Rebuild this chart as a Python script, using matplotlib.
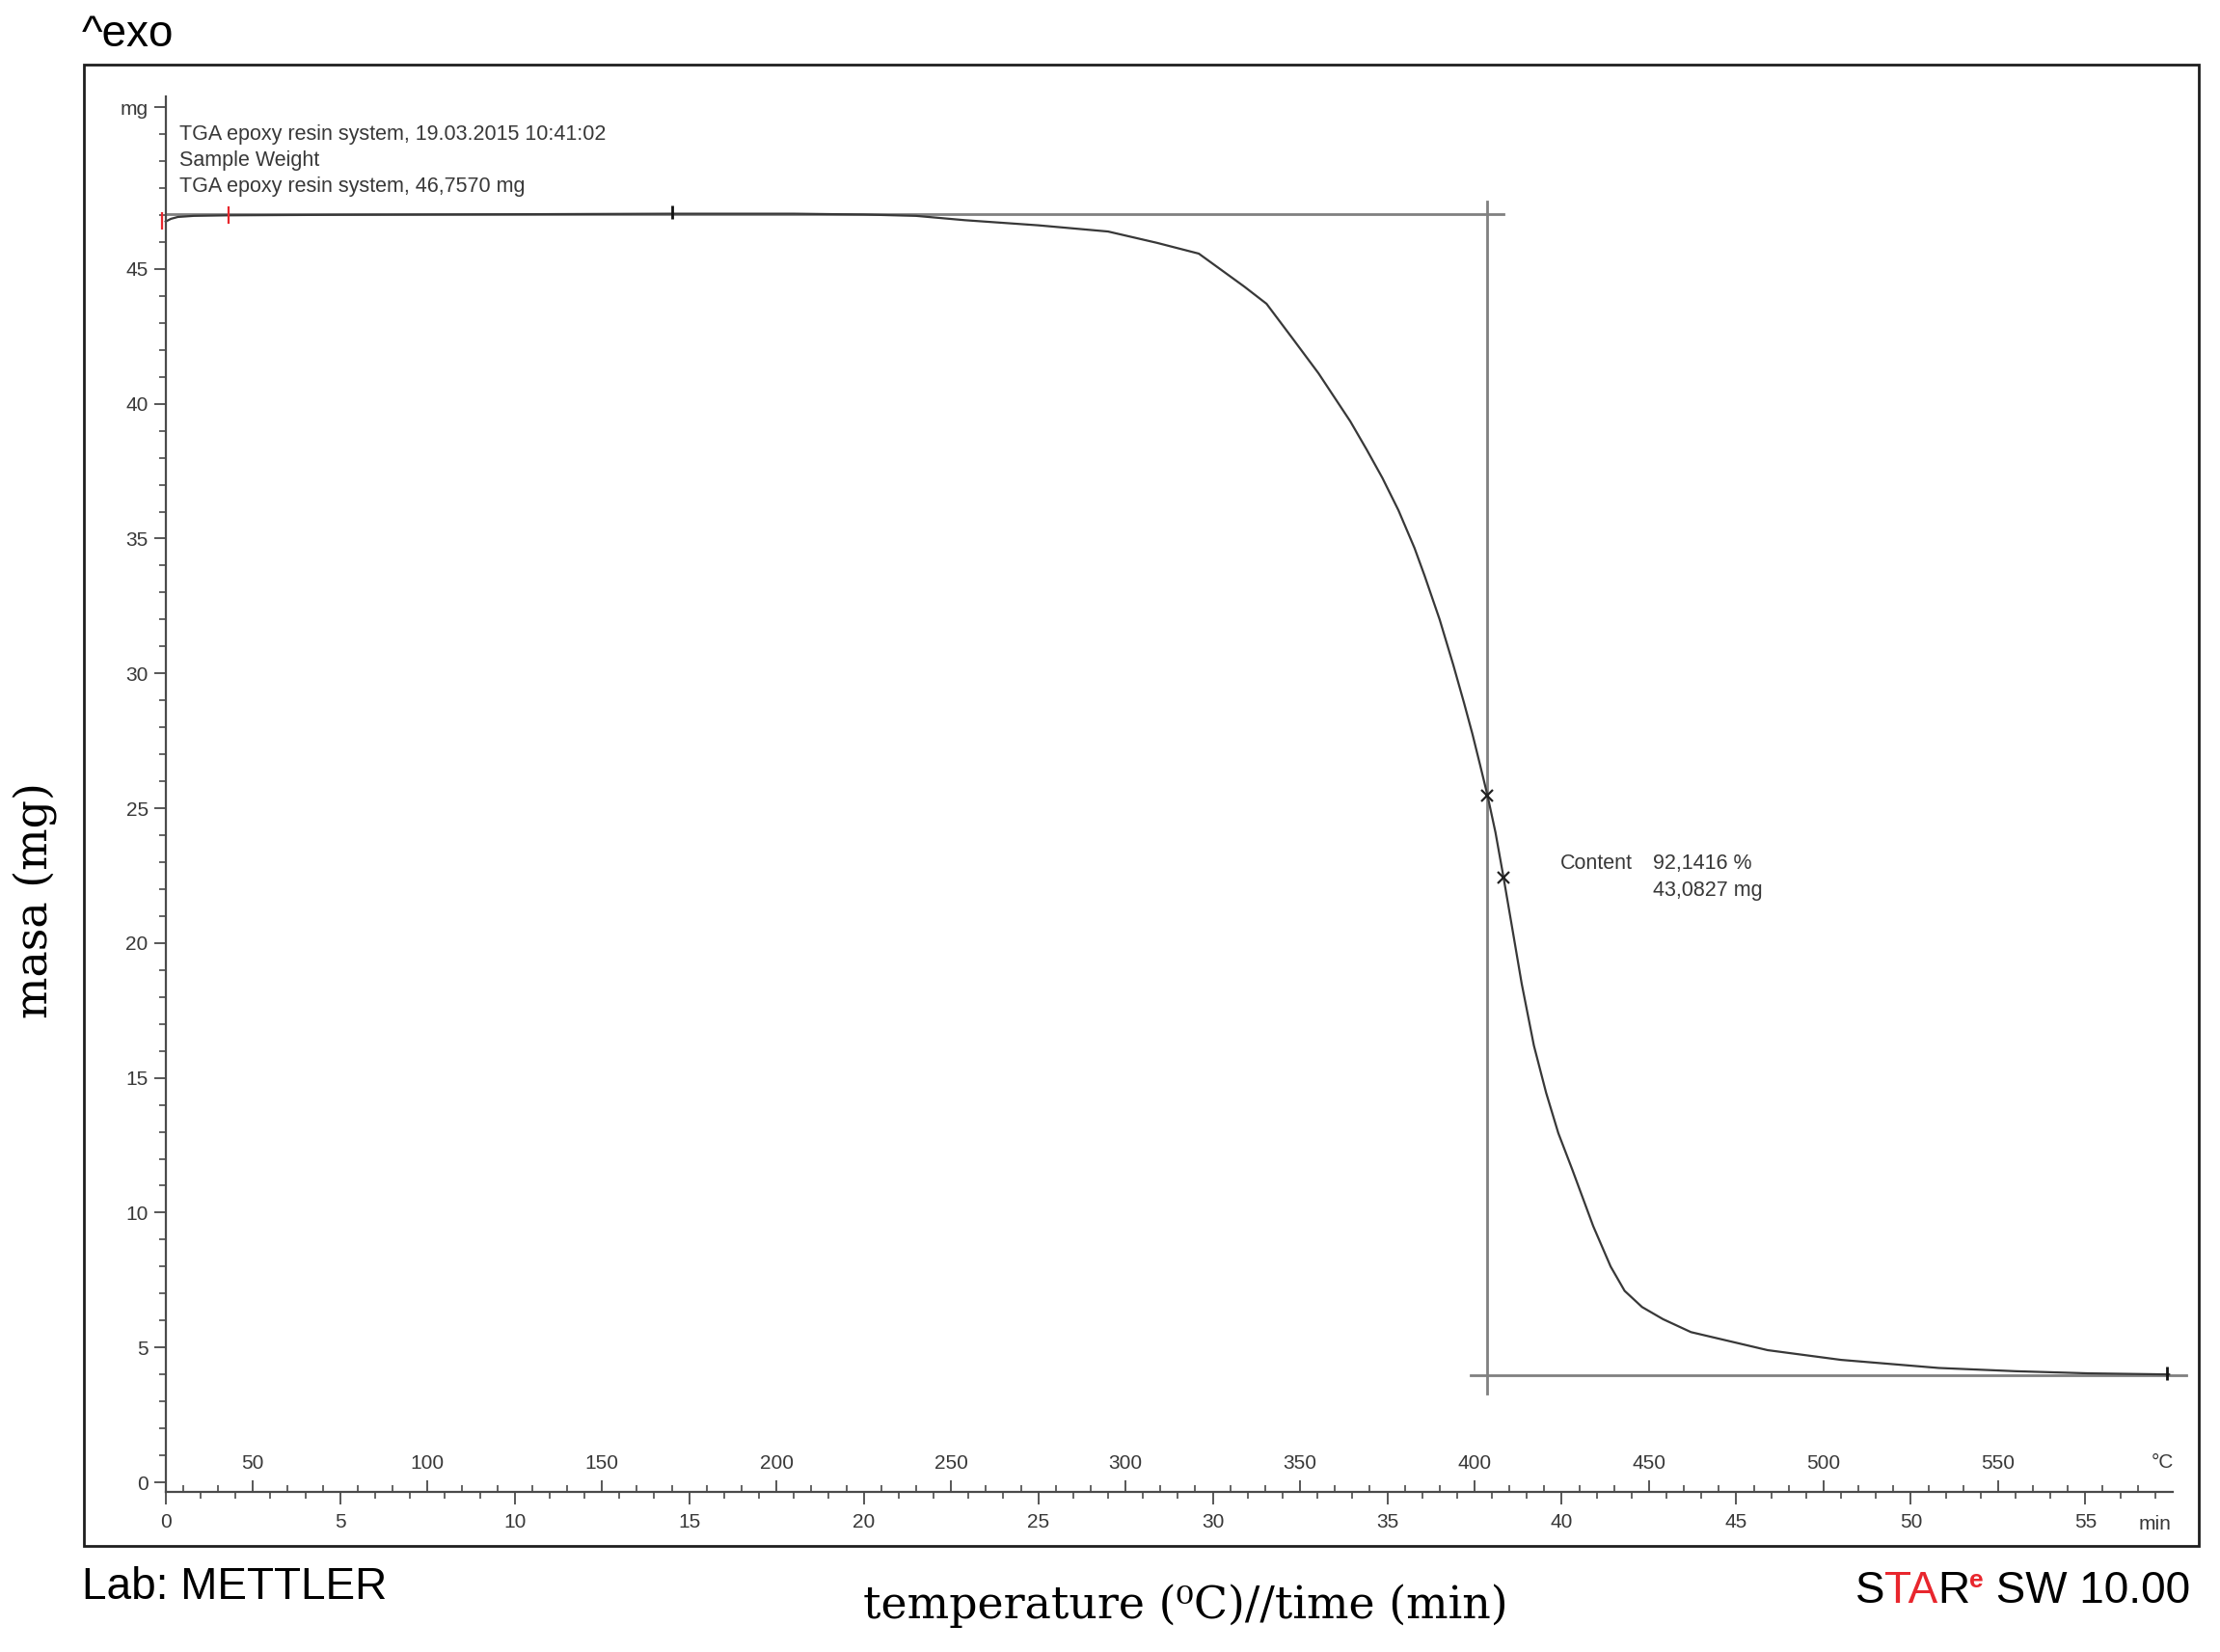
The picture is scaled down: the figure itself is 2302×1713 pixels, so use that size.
import matplotlib
matplotlib.use("Agg")
import matplotlib.pyplot as plt
from matplotlib.patches import Rectangle
from matplotlib.ticker import FixedLocator

plt.rcParams["font.family"] = ["Liberation Sans", "DejaVu Sans"]

# TGA curve: time (min) vs sample mass (mg)
time_min = [0.0, 0.15, 0.35, 0.8, 1.8, 5.0, 10.0, 14.5, 18.0, 20.0, 21.5,
            22.9, 25.0, 27.0, 28.4, 29.6, 30.25, 30.9, 31.54, 32.3, 33.03,
            33.94, 34.41, 34.86, 35.32, 35.78, 36.07, 36.5, 36.89, 37.2,
            37.44, 37.66, 37.87, 38.1, 38.33, 38.6, 38.85, 39.2, 39.55, 39.9,
            40.3, 40.9, 41.4, 41.8, 42.3, 42.9, 43.7, 45.9, 48.0, 50.8, 53.0,
            55.1, 57.4]
mass_mg = [46.76, 46.86, 46.93, 46.97, 46.99, 47.01, 47.03, 47.05, 47.05,
           47.02, 46.97, 46.81, 46.62, 46.39, 45.97, 45.57, 44.96, 44.35,
           43.71, 42.4, 41.13, 39.35, 38.3, 37.25, 36.05, 34.65, 33.62, 32.0,
           30.32, 28.9, 27.75, 26.6, 25.48, 24.1, 22.44, 20.4, 18.5, 16.2,
           14.45, 12.95, 11.6, 9.5, 8.0, 7.1, 6.5, 6.05, 5.57, 4.90, 4.54,
           4.24, 4.12, 4.04, 4.00]

# step evaluation (horizontal / vertical construction lines)
step_top = 47.05
step_bottom = 3.97
step_time = 37.87
top_line_t = [0.0, 38.33]
bottom_line_t = [37.4, 57.9]
vert_line_m = [3.3, 47.5]
cross_t = [37.87, 38.33]
cross_m = [25.48, 22.44]
bracket_t = [-0.1, 1.8]
bracket_m = [46.8, 46.99]
flag_t = [14.5, 57.33]
flag_m = [47.1, 4.05]

time_ticks = list(range(0, 56, 5))
time_minor = list(range(0, 58))
temp_ticks = list(range(50, 551, 50))
temp_minor = list(range(30, 591, 10))
mass_ticks = [0, 5, 10, 15, 20, 25, 30, 35, 40, 45, 51]
mass_labels = ["0", "5", "10", "15", "20", "25", "30", "35", "40", "45", "mg"]
mass_minor = list(range(0, 52))

header_lines = ["TGA epoxy resin system, 19.03.2015 10:41:02",
                "Sample Weight",
                "TGA epoxy resin system, 46,7570 mg"]


def t_to_T(t):
    return 25 + 10 * t


def T_to_t(T):
    return (T - 25) / 10


W, H = 2302, 1713
fig = plt.figure(figsize=(W / 100, H / 100), dpi=100)
# axes fills the outer frame box
ax = fig.add_axes([87 / W, (H - 1603) / H, 2193 / W, 1536 / H])
xlo, xhi = -2.343, 58.25
ylo, yhi = -2.36, 52.58
ax.set_xlim(xlo, xhi)
ax.set_ylim(ylo, yhi)
ax.patch.set_visible(False)

fig.add_artist(Rectangle((87 / W, (H - 1603) / H), 2193 / W, 1536 / H,
                         transform=fig.transFigure, fill=False,
                         lw=2.0, ec="#1e1e1e"))

axis_col = "#4a4a4a"
txt_col = "#383838"
x_axis_m = -0.35

for s in ["top", "right"]:
    ax.spines[s].set_visible(False)
ax.spines["left"].set_position(("data", 0))
ax.spines["bottom"].set_position(("data", x_axis_m))
ax.spines["left"].set_bounds(x_axis_m, 51.4)
ax.spines["bottom"].set_bounds(0, 57.5)
for s in ["left", "bottom"]:
    ax.spines[s].set_color(axis_col)
    ax.spines[s].set_linewidth(1.6)

ax.xaxis.set_major_locator(FixedLocator(time_ticks))
ax.xaxis.set_minor_locator(FixedLocator(time_minor))
ax.yaxis.set_major_locator(FixedLocator(mass_ticks))
ax.yaxis.set_minor_locator(FixedLocator(mass_minor))
ax.set_yticklabels(mass_labels)
ax.tick_params(which="major", length=9, width=1.3, colors=axis_col,
               labelsize=15, labelcolor=txt_col)
ax.tick_params(which="minor", length=5, width=1.2, colors=axis_col)
ax.tick_params(axis="x", which="major", pad=7)
ax.tick_params(axis="y", which="major", pad=4)

# temperature scale sits on the same line, ticks pointing up
frac = (x_axis_m - ylo) / (yhi - ylo)
sec = ax.secondary_xaxis(frac, functions=(t_to_T, T_to_t))
sec.set_alignment("top")
sec.xaxis.set_major_locator(FixedLocator(temp_ticks))
sec.xaxis.set_minor_locator(FixedLocator(temp_minor))
sec.tick_params(which="major", length=9, width=1.3, colors=axis_col,
                labelsize=15, labelcolor=txt_col, pad=5)
sec.tick_params(which="minor", length=5, width=1.2, colors=axis_col)
for s in sec.spines.values():
    s.set_visible(False)

ax.text(57.2, 0.75, "°C", fontsize=15, color=txt_col, ha="center", va="center")
ax.text(57.0, -1.55, "min", fontsize=15, color=txt_col, ha="center", va="center")

# construction lines
ax.plot(top_line_t, [step_top, step_top], color="#808080", lw=2.0)
ax.plot(bottom_line_t, [step_bottom, step_bottom], color="#808080", lw=2.0)
ax.plot([step_time, step_time], vert_line_m, color="#808080", lw=2.0)

ax.plot(time_min, mass_mg, color="#383838", lw=1.6)
ax.plot(cross_t, cross_m, "x", color="#222222", ms=9, mew=1.6)
ax.plot(bracket_t, bracket_m, "|", color="#e8262d", ms=13, mew=1.6)
ax.plot(flag_t, flag_m, "|", color="#111111", ms=10, mew=2.0)

for i, line in enumerate(header_lines):
    ax.text(0.39, 50.0 - i * 0.975, line, fontsize=15.5, color=txt_col,
            va="center", ha="left")

ax.text(39.96, 22.96, "Content", fontsize=15.5, color=txt_col, va="center")
ax.text(42.6, 22.96, "92,1416 %", fontsize=15.5, color=txt_col, va="center")
ax.text(42.6, 21.96, "43,0827 mg", fontsize=15.5, color=txt_col, va="center")

# page decorations
fig.text(0.037, 0.979, "^exo", fontsize=33, va="center", ha="left")
fig.text(0.037, 0.039, "Lab: METTLER", fontsize=33, va="center", ha="left")

serif = ["DejaVu Serif"]
fig.text(0.534, 0.028, "temperature (\u2070C)//time (min)", fontsize=33,
         family=serif, ha="center", va="center")
fig.text(0.016, 0.455, "masa (mg)", fontsize=33, family=serif,
         rotation=90, ha="center", va="center")

# "STARe SW 10.00" with red TA and superscript e, built right to left
a = fig.text(0.9866, 0.024, " SW 10.00", fontsize=33, ha="right", va="bottom")
b = ax.annotate("e", xy=(0, 1.03), xycoords=a, ha="right", va="top",
                fontsize=19, color="#e8262d", fontweight="bold")
c = ax.annotate("R", xy=(0, 0), xycoords=(b, a), ha="right", va="bottom",
                fontsize=33)
d = ax.annotate("TA", xy=(0, 0), xycoords=(c, a), ha="right", va="bottom",
                fontsize=33, color="#e8262d")
ax.annotate("S", xy=(0, 0), xycoords=(d, a), ha="right", va="bottom",
            fontsize=33)

fig.savefig("out.png", dpi=100)
